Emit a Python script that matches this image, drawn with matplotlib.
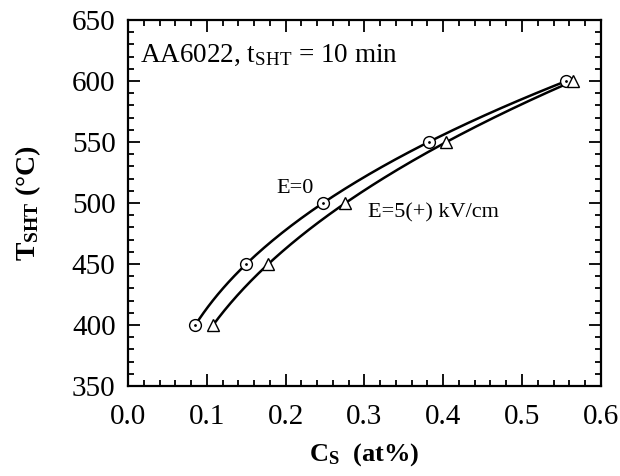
import numpy as np
import matplotlib
matplotlib.use("Agg")
import matplotlib.pyplot as plt
from matplotlib.ticker import MultipleLocator, FormatStrFormatter

# data
temps = [400, 450, 500, 550, 600]
cs_e0 = [0.0854, 0.150, 0.2475, 0.3816, 0.5563]
cs_e5 = [0.108, 0.178, 0.276, 0.404, 0.565]

label_e0 = "E=0"
label_e5 = "E=5(+) kV/cm"
title_text = r"AA6022, t$_{\rm SHT}$ = 10 min"

plt.rcParams["font.family"] = ["Liberation Serif", "DejaVu Serif"]
plt.rcParams["mathtext.fontset"] = "custom"
plt.rcParams["mathtext.rm"] = "Liberation Serif"
plt.rcParams["mathtext.bf"] = "Liberation Serif:bold"
plt.rcParams["mathtext.it"] = "Liberation Serif:italic"

fig = plt.figure(figsize=(6.2, 4.76), dpi=100)
ax = fig.add_axes([0.2065, 0.189, 0.7625, 0.769])


def smooth(cs):
    # smooth trend curve through the measured points
    t = np.array(temps, dtype=float)
    coef = np.polyfit(t, cs, 3)
    tt = np.linspace(t[0], t[-1], 200)
    return np.polyval(coef, tt), tt


for cs, mk in [(cs_e0, "o"), (cs_e5, "^")]:
    xs, ys = smooth(cs)
    ax.plot(xs, ys, color="black", lw=1.8, zorder=2)
    ax.plot(cs, temps, linestyle="none", marker=mk, ms=8.5,
            mfc="white", mec="black", mew=1.0, zorder=3)
ax.plot(cs_e0, temps, linestyle="none", marker=".", ms=2,
        color="black", zorder=4)

ax.text(0.188, 512, label_e0, fontsize=16, va="center")
ax.text(0.304, 492, label_e5, fontsize=16, va="center")
ax.text(0.015, 621, title_text, fontsize=19.5, va="center")

ax.set_xlim(0, 0.6)
ax.set_ylim(350, 650)
ax.xaxis.set_major_locator(MultipleLocator(0.1))
ax.xaxis.set_minor_locator(MultipleLocator(0.02))
ax.yaxis.set_major_locator(MultipleLocator(50))
ax.yaxis.set_minor_locator(MultipleLocator(10))
ax.xaxis.set_major_formatter(FormatStrFormatter("%.1f"))

ax.tick_params(which="both", direction="in", top=True, right=True,
               width=1.3, labelsize=21)
ax.tick_params(which="major", length=8.5)
ax.tick_params(which="minor", length=4.3)
ax.tick_params(axis="x", pad=13)
ax.tick_params(axis="y", pad=9)
for s in ax.spines.values():
    s.set_linewidth(1.6)

ax.set_xlabel(r"$\mathbf{C_S}$  (at%)", fontsize=19, fontweight="bold",
              labelpad=8)
ax.set_ylabel(r"$\mathbf{T_{SHT}}$ (°C)", fontsize=20, fontweight="bold",
              labelpad=21)

fig.savefig("out.png", dpi=100)
